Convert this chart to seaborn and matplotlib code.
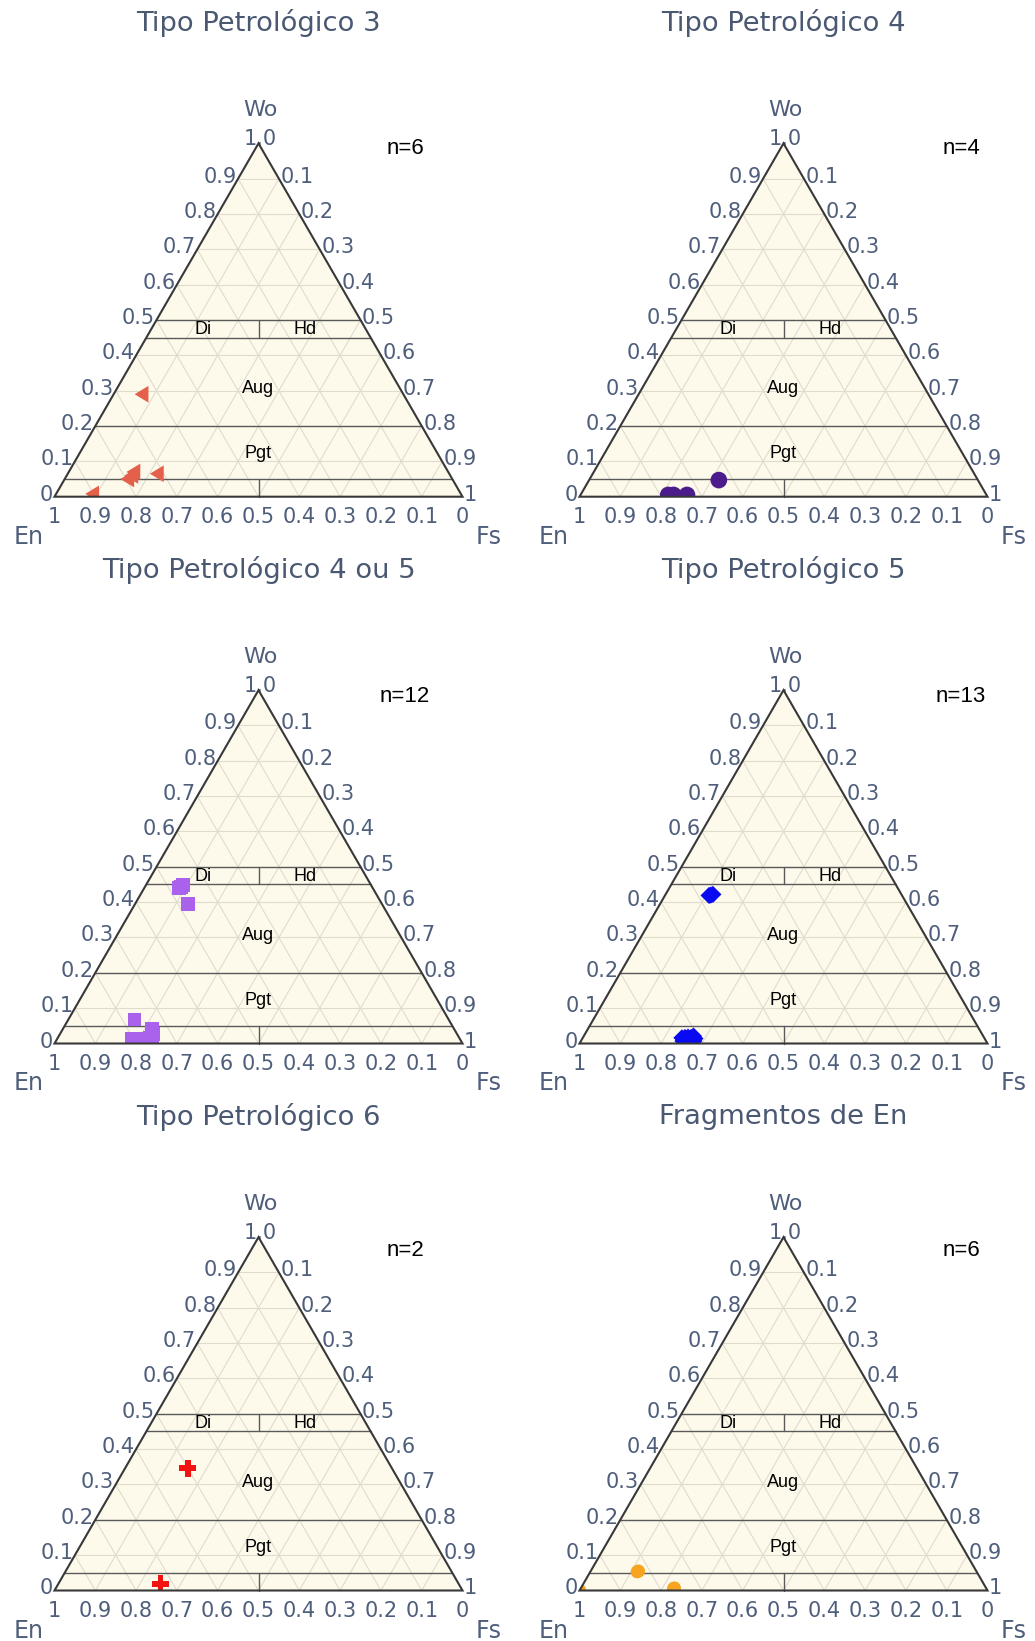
import numpy as np
import pandas as pd
import matplotlib
matplotlib.use("Agg")
import matplotlib.pyplot as plt
from matplotlib.patches import Polygon
from matplotlib.path import Path
import seaborn as sns

# ---------------------------------------------------------------------------
# Pyroxene compositions (molar fractions Wo / En / Fs) by petrologic type
# ---------------------------------------------------------------------------
panel_titles = ["Tipo Petrológico 3", "Tipo Petrológico 4",
                "Tipo Petrológico 4 ou 5", "Tipo Petrológico 5",
                "Tipo Petrológico 6", "Fragmentos de En"]

tp3_wo = [0.290, 0.050, 0.070, 0.060, 0.065, 0.008]
tp3_en = [0.635, 0.790, 0.765, 0.775, 0.710, 0.897]
tp3_fs = [0.075, 0.160, 0.165, 0.165, 0.225, 0.095]

tp4_wo = [0.047, 0.005, 0.005, 0.005]
tp4_en = [0.635, 0.780, 0.767, 0.734]
tp4_fs = [0.318, 0.215, 0.228, 0.261]

tp45_wo = [0.440, 0.449, 0.444, 0.394, 0.068, 0.042, 0.027, 0.016, 0.010, 0.013, 0.013, 0.007]
tp45_en = [0.474, 0.460, 0.468, 0.475, 0.770, 0.740, 0.745, 0.758, 0.773, 0.789, 0.804, 0.758]
tp45_fs = [0.086, 0.091, 0.088, 0.131, 0.162, 0.218, 0.228, 0.226, 0.217, 0.198, 0.183, 0.235]

tp5_wo = [0.419, 0.422, 0.420, 0.016, 0.017, 0.018, 0.017, 0.021, 0.014, 0.007, 0.008, 0.007, 0.007]
tp5_en = [0.473, 0.462, 0.468, 0.741, 0.733, 0.725, 0.718, 0.710, 0.710, 0.743, 0.733, 0.726, 0.716]
tp5_fs = [0.108, 0.116, 0.112, 0.243, 0.250, 0.257, 0.265, 0.269, 0.276, 0.250, 0.259, 0.267, 0.277]

tp6_wo = [0.346, 0.019]
tp6_en = [0.500, 0.731]
tp6_fs = [0.154, 0.250]

frag_wo = [0.055, 0.053, 0.007, 0.005, 0.000, 0.000]
frag_en = [0.828, 0.832, 0.764, 0.767, 1.000, 1.000]
frag_fs = [0.117, 0.115, 0.229, 0.228, 0.000, 0.000]

sample_counts = [6, 4, 12, 13, 2, 6]

# Pyroxene quadrilateral field limits (Wo fraction) and En/Fs dividers
field_wo = [0.05, 0.20, 0.45, 0.50]
divider_wo = [(0.0, 0.05), (0.45, 0.50)]
field_names = ["Di", "Hd", "Aug", "Pgt"]
field_en_fs = [(0.365, 0.472), (0.613, 0.472), (0.5, 0.305), (0.5, 0.122)]  # (x, Wo)

wo_ticks = ["0", "0.1", "0.2", "0.3", "0.4", "0.5", "0.6", "0.7", "0.8", "0.9"]
fs_ticks = ["0.1", "0.2", "0.3", "0.4", "0.5", "0.6", "0.7", "0.8", "0.9", "1"]
en_ticks = ["1", "0.9", "0.8", "0.7", "0.6", "0.5", "0.4", "0.3", "0.2", "0.1", "0"]

# ---------------------------------------------------------------------------
# Styling
# ---------------------------------------------------------------------------
W_PX, H_PX, DPI = 1035, 1641, 100
PT = 72.0 / DPI                       # points per pixel
H3 = np.sqrt(3) / 2
SCALE = 408.0                         # pixels per ternary unit

BG = "#FDFAEC"
GRID = "#E0DCCD"
FIELD = "#5A5A5A"
EDGE = "#383838"
TEXT = "#4E5E7B"
TITLE = "#4A5872"
TICK_FS = 15

tri_left = Path([(-1.155, 0.0), (0.5, -1.0), (0.5, 1.0), (-1.155, 0.0)],
                [Path.MOVETO, Path.LINETO, Path.LINETO, Path.CLOSEPOLY])
c = 1.0 / 3.0
cross_verts = [(1, c), (c, c), (c, 1), (-c, 1), (-c, c), (-1, c), (-1, -c),
               (-c, -c), (-c, -1), (c, -1), (c, -c), (1, -c), (1, c)]
cross = Path(cross_verts, [Path.MOVETO] + [Path.LINETO] * 11 + [Path.CLOSEPOLY])

panels = [
    (tp3_wo, tp3_en, tp3_fs, tri_left, 193, "#E5604B"),
    (tp4_wo, tp4_en, tp4_fs, "o", 144, "#4D1C8C"),
    (tp45_wo, tp45_en, tp45_fs, "s", 100, "#AA62EC"),
    (tp5_wo, tp5_en, tp5_fs, "D", 76, "#0A0AF2"),
    (tp6_wo, tp6_en, tp6_fs, cross, 150, "#F21212"),
    (frag_wo, frag_en, frag_fs, "o", 90, "#F7A520"),
]

col_x0 = [54.5, 579.5]               # left vertex (pixels)
row_base = [496.7, 1043.5, 1590.5]   # base line (pixels)
count_pos = [(405, 148), (961, 148), (405, 697), (961, 697), (405, 1251), (961, 1251)]

sns.set_style("white")
plt.rcParams["font.family"] = ["DejaVu Sans"]

fig = plt.figure(figsize=(W_PX / DPI, H_PX / DPI), dpi=DPI)
fig.patch.set_facecolor("white")


def to_xy(wo, en, fs):
    wo = np.asarray(wo, float)
    en = np.asarray(en, float)
    fs = np.asarray(fs, float)
    tot = wo + en + fs
    wo, fs = wo / tot, fs / tot
    return fs + wo / 2, wo * H3


def label(ax, text, xy, dx, dy, **kw):
    ax.annotate(text, xy=xy, xytext=(dx * PT, -dy * PT), textcoords="offset points",
                annotation_clip=False, **kw)


for i, (wo, en, fs, marker, size, color) in enumerate(panels):
    r, cidx = divmod(i, 2)
    x0, base = col_x0[cidx], row_base[r]
    left, right = x0 - 54.0, x0 - 54.0 + 509.0
    top, bottom = base - 496.0, base + 50.3
    ax = fig.add_axes([left / W_PX, 1 - bottom / H_PX,
                       (right - left) / W_PX, (bottom - top) / H_PX])
    ax.set_xlim((left - x0) / SCALE, (right - x0) / SCALE)
    ax.set_ylim((base - bottom) / SCALE, (base - top) / SCALE)
    ax.axis("off")

    # triangle background and grid
    tri = Polygon([(0, 0), (1, 0), (0.5, H3)], closed=True, facecolor=BG,
                  edgecolor="none", zorder=0)
    ax.add_patch(tri)
    for k in range(1, 10):
        t = k / 10
        ax.plot([t / 2, 1 - t / 2], [t * H3, t * H3], color=GRID, lw=0.8, zorder=1)
        ax.plot([1 - t, (1 - t) / 2], [0, (1 - t) * H3], color=GRID, lw=0.8, zorder=1)
        ax.plot([t, (1 + t) / 2], [0, (1 - t) * H3], color=GRID, lw=0.8, zorder=1)

    # classification field boundaries
    for w in field_wo:
        ax.plot([w / 2, 1 - w / 2], [w * H3, w * H3], color=FIELD, lw=1.0, zorder=2)
    for lo, hi in divider_wo:
        ax.plot([0.5, 0.5], [lo * H3, hi * H3], color=FIELD, lw=1.0, zorder=2)
    for name, (fx, fw) in zip(field_names, field_en_fs):
        ax.text(fx, fw * H3, name, ha="center", va="center", fontsize=13,
                family="Liberation Sans", color="black", zorder=3)

    # data points
    px, py = to_xy(wo, en, fs)
    df = pd.DataFrame({"x": px, "y": py})
    n_before = len(ax.collections)
    sns.scatterplot(data=df, x="x", y="y", marker=marker, s=size, color=color,
                    linewidth=0, edgecolor="none", legend=False, ax=ax, zorder=5)
    for coll in ax.collections[n_before:]:
        coll.set_clip_path(tri)
    ax.set_xlabel("")
    ax.set_ylabel("")

    # triangle outline
    ax.add_patch(Polygon([(0, 0), (1, 0), (0.5, H3)], closed=True, fill=False,
                         edgecolor=EDGE, lw=1.5, zorder=6, joinstyle="miter"))

    # tick labels
    for k, txt in enumerate(wo_ticks):
        t = k / 10
        label(ax, txt, (t / 2, t * H3), -1.5, -2, ha="right", va="center",
              fontsize=TICK_FS, color=TEXT)
    label(ax, "1.0", (0.5, H3), 1.5, -4, ha="center", va="center",
          fontsize=TICK_FS, color=TEXT)
    for k, txt in enumerate(fs_ticks):
        f = (k + 1) / 10
        label(ax, txt, (0.5 + f / 2, (1 - f) * H3), 1.5, -2, ha="left", va="center",
              fontsize=TICK_FS, color=TEXT)
    for k, txt in enumerate(en_ticks):
        label(ax, txt, (k / 10, 0), 0, 20.5, ha="center", va="center",
              fontsize=TICK_FS, color=TEXT)

    # axis titles
    label(ax, "Wo", (0.5, H3), 1.5, -33, ha="center", va="center", fontsize=16, color=TEXT)
    label(ax, "En", (0, 0), -26, 40, ha="center", va="center", fontsize=17, color=TEXT)
    label(ax, "Fs", (1, 0), 26, 40, ha="center", va="center", fontsize=17, color=TEXT)

    # panel title and sample count
    fig.text((x0 + 204) / W_PX, 1 - (base - 473.5) / H_PX, panel_titles[i],
             ha="center", va="center", fontsize=19.7, color=TITLE)
    cx, cy = count_pos[i]
    fig.text(cx / W_PX, 1 - cy / H_PX, f"n={sample_counts[i]}", ha="center",
             va="center", fontsize=16, family="Liberation Sans", color="black")

fig.savefig("out.png", dpi=DPI, facecolor="white")
